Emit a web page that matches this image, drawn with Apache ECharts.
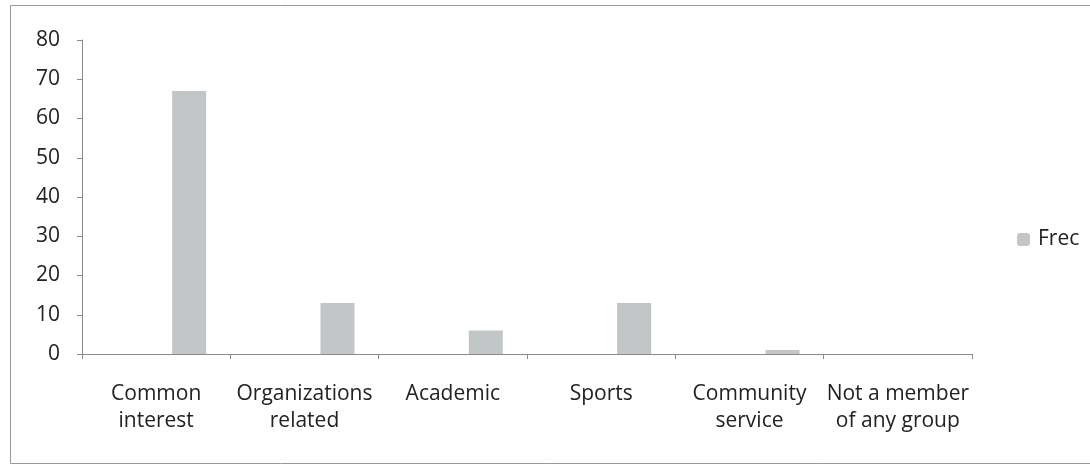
<!DOCTYPE html>
<html><head><meta charset="utf-8">
<script src="https://cdn.jsdelivr.net/npm/echarts@6/dist/echarts.min.js"></script>
<style>html,body{margin:0;padding:0;background:#fff}#c{width:1090px;height:466px}</style>
</head><body><div id="c"></div>
<script>
const categories = ['Common\ninterest', 'Organizations\nrelated', 'Academic', 'Sports', 'Community\nservice', 'Not a member\nof any group'];
const frec = [67, 13, 6, 13, 1, 0];
const yTicks = [0, 10, 20, 30, 40, 50, 60, 70, 80];

const chart = echarts.init(document.getElementById('c'));
const font = '"Open Sans", "Noto Sans", sans-serif';
chart.setOption({
  animation: false,
  backgroundColor: '#fff',
  graphic: [{
    type: 'rect', left: 8, top: 3, shape: { width: 1090, height: 458 },
    style: { fill: 'none', stroke: '#9a9a9a', lineWidth: 1 }, silent: true
  }],
  legend: {
    data: ['Frec'], orient: 'vertical', left: 1012, top: 224,
    itemWidth: 13, itemHeight: 13, itemGap: 4,
    textStyle: { fontFamily: font, fontSize: 21, color: '#222', padding: [0, 0, 0, 3] }
  },
  grid: { left: 82, right: 118, top: 40, bottom: 112 },
  xAxis: {
    type: 'category',
    data: categories,
    axisLine: { lineStyle: { color: '#8a8a8a', width: 1 } },
    axisTick: { show: true, length: 5, lineStyle: { color: '#8a8a8a' } },
    axisLabel: { interval: 0, margin: 27, fontFamily: font, fontSize: 21, color: '#222', lineHeight: 27 }
  },
  yAxis: {
    type: 'value', min: 0, max: 80, interval: 10,
    axisLine: { show: true, lineStyle: { color: '#8a8a8a', width: 1 } },
    axisTick: { show: true, length: 5, lineStyle: { color: '#8a8a8a' } },
    splitLine: { show: false },
    axisLabel: { margin: 22, fontFamily: font, fontSize: 21, color: '#222',
      formatter: v => yTicks.includes(v) ? String(v) : '' }
  },
  series: [
    { name: '_pad', type: 'bar', data: categories.map(() => null), barWidth: 34, barGap: '94%' },
    { name: 'Frec', type: 'bar', data: frec, barWidth: 34, barGap: '94%',
      itemStyle: { color: '#c3c6c7' } }
  ]
});
</script></body></html>
